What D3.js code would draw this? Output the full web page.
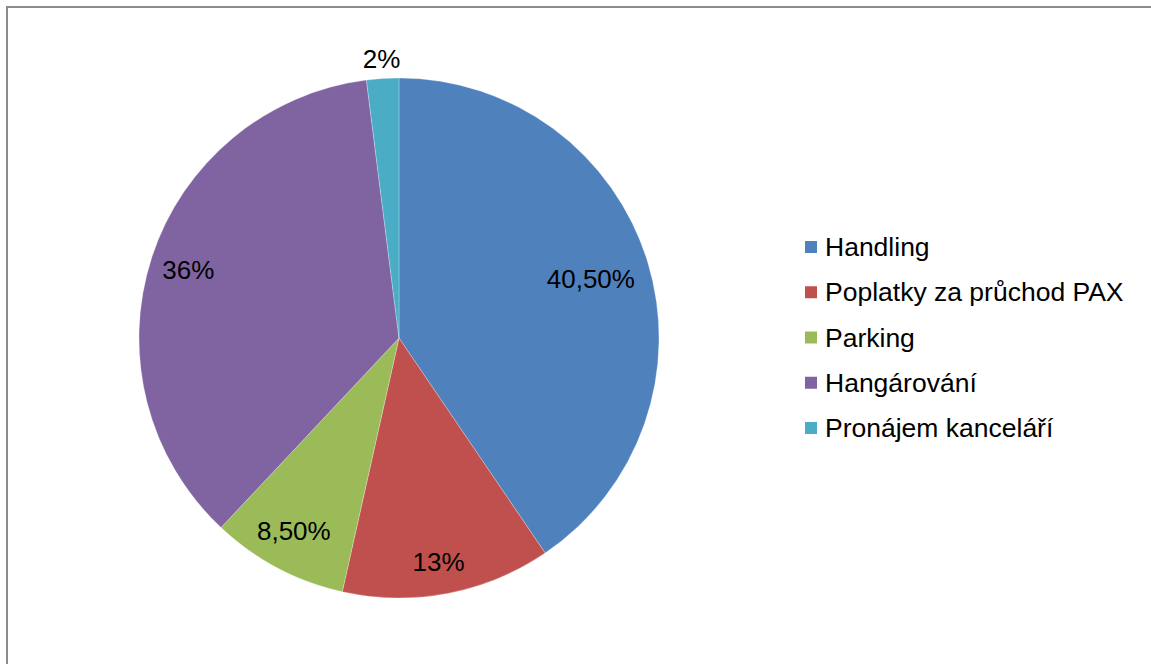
<!DOCTYPE html>
<html>
<head>
<meta charset="utf-8">
<script src="https://cdn.jsdelivr.net/npm/d3@7"></script>
<style>
  html, body { margin: 0; padding: 0; background: #fff; }
  svg { display: block; }
  text { font-family: "Liberation Sans", Arial, sans-serif; fill: #000; }
</style>
</head>
<body>
<svg id="chart" width="1151" height="664"></svg>
<script>
// Revenue shares by category (percent)
const categories = ["Handling", "Poplatky za průchod PAX", "Parking", "Hangárování", "Pronájem kanceláří"];
const shares = [40.5, 13, 8.5, 36, 2];
const valueLabels = ["40,50%", "13%", "8,50%", "36%", "2%"];

// Slice colours and where each value label sits (fraction of the radius)
const colors = ["#4F81BD", "#C0504D", "#9BBB59", "#8064A2", "#4BACC6"];
const labelRadiusFactor = [0.772, 0.875, 0.84, 0.852, 1.075];

const svg = d3.select("#chart");
const W = 1151, H = 664;
const cx = 399, cy = 338, R = 260;

// Frame line along the top and left edges
svg.append("path")
  .attr("d", `M7,${H + 5} L7,7 L${W + 5},7`)
  .attr("fill", "none")
  .attr("stroke", "#8c8c8c")
  .attr("stroke-width", 2);

const rows = categories.map((c, i) => ({ name: c, value: shares[i], label: valueLabels[i], i }));

const pie = d3.pie().value(d => d.value).sort(null);
const arcs = pie(rows);
const arc = d3.arc().innerRadius(0).outerRadius(R);

const g = svg.append("g").attr("transform", `translate(${cx},${cy})`);

g.selectAll("path.slice")
  .data(arcs)
  .join("path")
  .attr("class", "slice")
  .attr("d", arc)
  .attr("fill", d => colors[d.data.i])
  .attr("stroke", "#ffffff")
  .attr("stroke-opacity", 0.35)
  .attr("stroke-width", 0.75);

g.selectAll("text.val")
  .data(arcs)
  .join("text")
  .attr("class", "val")
  .attr("transform", d => {
    const r = R * labelRadiusFactor[d.data.i];
    const c = d3.arc().innerRadius(r).outerRadius(r).centroid(d);
    // small nudge toward the slice's leading edge for the narrow lower slices
    const nudge = (d.data.i === 1 || d.data.i === 2) ? -3 : 0;
    return `translate(${c[0] + nudge},${c[1]})`;
  })
  .attr("text-anchor", "middle")
  .attr("dy", "0.36em")
  .style("font-size", "26px")
  .text(d => d.data.label);

// Legend
const legend = svg.append("g").attr("transform", "translate(805,247)");
const item = legend.selectAll("g.item")
  .data(rows)
  .join("g")
  .attr("class", "item")
  .attr("transform", (d, i) => `translate(0,${i * 45.25})`);

item.append("rect")
  .attr("x", 0).attr("y", -6)
  .attr("width", 12).attr("height", 12)
  .attr("fill", d => colors[d.i]);

item.append("text")
  .attr("x", 20)
  .attr("y", 0)
  .attr("dy", "0.34em")
  .style("font-size", "26.5px")
  .text(d => d.name);
</script>
</body>
</html>
